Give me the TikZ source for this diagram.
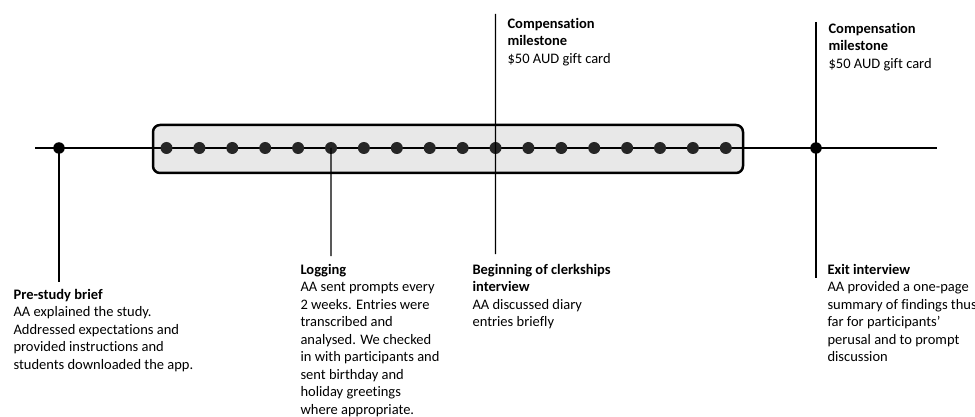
\documentclass[tikz,border=0pt]{standalone}
\usepackage{fontspec}
\setmainfont{Carlito}[Ligatures=NoCommon]
\begin{document}
\begin{tikzpicture}[x=1pt,y=-1pt,
                    line width=1.1pt,
                    main dot/.style={circle,fill=black,inner sep=0pt,minimum size=11.5pt},
                    box dot/.style={circle,fill=black!85,inner sep=0pt,minimum size=12pt},
                    log box/.style={draw,rounded corners=7pt,line width=2.5pt,fill=black!9,minimum width=590pt,minimum height=48pt},
                    event text/.style={anchor=north west,align=left,inner sep=0pt,font=\fontsize{14.5}{17.5}\selectfont}
                   ]
  \useasboundingbox (0,0) rectangle (975,417);
  \node[log box] (box) at (448,149) {};
  \coordinate (start) at (35,148);
  \coordinate (end) at (937,148);
  \draw (start) -- (end);
  \foreach \i in {1,...,18}
    \node[box dot] (d\i) at ({166.5+(\i-1)*32.9},148) {};
  \node[main dot] (pre) at (59,148) {};
  \node[main dot] (exit) at (816,148) {};
  \coordinate (pre end) at (59,282);
  \coordinate (log end) at (331,256);
  \coordinate (comp top) at (495.5,14);
  \coordinate (clerk end) at (495.5,254);
  \coordinate (final top) at (816,22);
  \coordinate (exit end) at (816,278);
  \draw (pre.center) -- (pre end);
  \draw (d6.center) -- (log end);
  \draw (comp top) -- (d11.center) -- (clerk end);
  \draw (final top) -- (exit.center) -- (exit end);
  % labels
  \node[event text] (pre text) at (13,288.5) {\textbf{Pre-study brief}\\AA explained the study.\\Addressed expectations and\\provided instructions and\\students downloaded the app.};
  \node[event text] (log text) at (300,263.5) {\textbf{Logging}\\AA sent prompts every\\2 weeks. Entries were\\transcribed and\\analysed. We checked\\in with participants and\\sent birthday and\\holiday greetings\\where appropriate.};
  \node[event text] (clerk text) at (472,263.5) {\textbf{Beginning of clerkships}\\\textbf{interview}\\AA discussed diary\\entries briefly};
  \node[event text] (exit text) at (827,263.5) {\textbf{Exit interview}\\AA provided a one-page\\summary of findings thus\\far for participants’\\perusal and to prompt\\discussion};
  \node[event text] (comp text) at (507,17.5) {\textbf{Compensation}\\\textbf{milestone}\\\$50 AUD gift card};
  \node[event text] (final text) at (828,22.5) {\textbf{Compensation}\\\textbf{milestone}\\\$50 AUD gift card};
\end{tikzpicture}
\end{document}
